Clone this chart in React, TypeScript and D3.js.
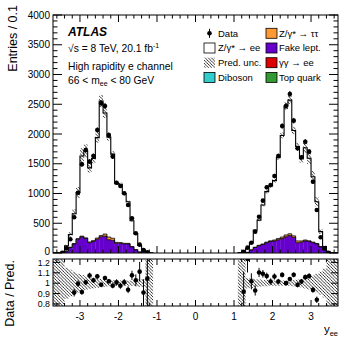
import React from 'react';
import * as d3 from 'd3';

const binCenters = [
  -3.65, -3.55, -3.45, -3.35, -3.25, -3.15, -3.05, -2.95, -2.85, -2.75, -2.65, -2.55, -2.45,
  -2.35, -2.25, -2.15, -2.05, -1.95, -1.85, -1.75, -1.65, -1.55, -1.45, -1.35, -1.25, -1.15,
  1.15, 1.25, 1.35, 1.45, 1.55, 1.65, 1.75, 1.85, 1.95, 2.05, 2.15, 2.25, 2.35,
  2.45, 2.55, 2.65, 2.75, 2.85, 2.95, 3.05, 3.15, 3.25, 3.35, 3.45, 3.55, 3.65,
];

const dataCounts = [
  0, 0, 5, 80, 230, 600, 1013, 1490, 1730, 1535, 1630, 2067, 2516,
  2470, 1983, 1620, 1180, 1126, 1003, 807, 583, 331, 140, 50, 12, 0,
  0, 22, 90, 173, 358, 610, 880, 1104, 1143, 1294, 1630, 2134, 2470,
  2672, 2224, 1760, 1608, 1871, 1703, 1198, 723, 264, 79, 5, 0, 0,
];

const zeeMC = [
  0, 2, 15, 90, 214, 502, 777, 1347, 1461, 1245, 1379, 1688, 2261,
  2034, 1680, 1414, 993, 980, 832, 700, 433, 265, 109, 52, 11.5, 1,
  2, 24, 63, 118, 288, 424, 656, 849, 920, 998, 1361, 1708, 2167,
  2246, 1771, 1586, 1380, 1550, 1387, 1098, 700, 252, 58, 10, 2, 0,
];

const zttMC = [
  0, 0, 0, 0, 3, 5, 8, 10, 12, 12, 15, 18, 20,
  35, 45, 35, 15, 12, 10, 8, 6, 4, 2, 0, 0, 0,
  0, 0, 0, 2, 4, 6, 8, 10, 12, 15, 20, 25, 30,
  30, 25, 30, 20, 15, 12, 10, 8, 5, 2, 0, 0, 0,
];

const fakeMC = [
  0, 0, 5, 30, 90, 150, 230, 270, 240, 170, 190, 230, 270,
  280, 220, 210, 160, 160, 150, 150, 100, 50, 15, 3, 0, 0,
  0, 0, 10, 50, 90, 120, 140, 170, 190, 200, 220, 240, 270,
  290, 260, 170, 180, 200, 190, 170, 150, 100, 50, 10, 0, 0,
];

const dibosonMC = [
  0, 0, 0, 0, 1, 1, 1, 1, 1, 1, 1, 1, 1,
  1, 1, 1, 1, 1, 1, 1, 1, 1, 0, 0, 0, 0,
  0, 0, 0, 0, 1, 1, 1, 1, 1, 1, 1, 1, 1,
  1, 1, 1, 1, 1, 1, 1, 1, 1, 0, 0, 0, 0,
];

const gammaMC = [
  0, 0, 0, 0, 1, 1, 1, 1, 1, 1, 1, 1, 1,
  1, 1, 1, 1, 1, 1, 1, 1, 1, 0, 0, 0, 0,
  0, 0, 0, 0, 1, 1, 1, 1, 1, 1, 1, 1, 1,
  1, 1, 1, 1, 1, 1, 1, 1, 1, 0, 0, 0, 0,
];

const topMC = [
  0, 0, 0, 0, 1, 1, 1, 1, 1, 1, 1, 1, 1,
  1, 1, 1, 1, 1, 1, 1, 1, 1, 0, 0, 0, 0,
  0, 0, 0, 0, 1, 1, 1, 1, 1, 1, 1, 1, 1,
  1, 1, 1, 1, 1, 1, 1, 1, 1, 0, 0, 0, 0,
];

const predUnc = [
  1, 1, 1, 0.15, 0.13, 0.11, 0.09, 0.08, 0.065, 0.055, 0.05, 0.045, 0.04,
  0.035, 0.03, 0.03, 0.025, 0.025, 0.025, 0.025, 0.025, 0.03, 0.035, 0.04, 1, 1,
  1, 1, 0.05, 0.045, 0.04, 0.035, 0.03, 0.03, 0.025, 0.025, 0.025, 0.025, 0.025,
  0.025, 0.03, 0.035, 0.04, 0.05, 0.06, 0.075, 0.09, 0.11, 0.14, 1, 1, 1,
];

const xTickValues = [-3, -2, -1, 0, 1, 2, 3];
const yTickValues = [0, 500, 1000, 1500, 2000, 2500, 3000, 3500, 4000];
const ratioTickValues = [0.8, 0.9, 1, 1.1, 1.2];

const legendLeft = [
  { label: 'Data', kind: 'data' },
  { label: 'Z/γ* → ee', kind: 'box', color: '#ffffff' },
  { label: 'Pred. unc.', kind: 'hatch' },
  { label: 'Diboson', kind: 'box', color: '#33cccc' },
];
const legendRight = [
  { label: 'Z/γ* → ττ', color: '#ff9933' },
  { label: 'Fake lept.', color: '#6600cc' },
  { label: 'γγ → ee', color: '#dd0000' },
  { label: 'Top quark', color: '#339933' },
];

const HALF = 0.05;
const L = 53, R = 338, T = 15, B = 253, RT = 259, RB = 306;
const FONT = 'Liberation Sans, Arial, Helvetica, sans-serif';

export default function App() {
  const x = d3.scaleLinear().domain([-3.7, 3.7]).range([L, R]);
  const y = d3.scaleLinear().domain([0, 4000]).range([B, T]);
  const yr = d3.scaleLinear().domain([0.78, 1.233]).range([RB, RT]);

  const keys = ['top', 'gg', 'dib', 'fake', 'ztt', 'zee'];
  const colors: Record<string, string> = {
    top: '#339933', gg: '#dd0000', dib: '#33cccc', fake: '#6600cc', ztt: '#ff9933', zee: '#ffffff',
  };
  const rows = binCenters.map((c, i) => ({
    c, top: topMC[i], gg: gammaMC[i], dib: dibosonMC[i], fake: fakeMC[i], ztt: zttMC[i], zee: zeeMC[i],
  }));
  const stacked = d3.stack<any>().keys(keys)(rows);
  const total = rows.map((r) => r.top + r.gg + r.dib + r.fake + r.ztt + r.zee);

  const sides = [d3.range(0, 26), d3.range(26, 52)];
  const stepPath = (idx: number[], val: (i: number) => number) => {
    const p: [number, number][] = [];
    p.push([x(binCenters[idx[0]] - HALF), y(0)]);
    for (const i of idx) {
      p.push([x(binCenters[i] - HALF), y(val(i))]);
      p.push([x(binCenters[i] + HALF), y(val(i))]);
    }
    p.push([x(binCenters[idx[idx.length - 1]] + HALF), y(0)]);
    return d3.line()(p) || '';
  };

  const minorX = d3.range(-36, 37, 2).map((v) => v / 10).filter((v) => Math.abs(v - Math.round(v)) > 1e-6);
  const minorY = d3.range(0, 4001, 100).filter((v) => v % 500 !== 0);

  return (
    <svg width={357} height={344} style={{ position: 'absolute', left: 0, top: 0, background: '#fff' }} fontFamily={FONT}>
      <defs>
        <pattern id="hatch" patternUnits="userSpaceOnUse" width={3.2} height={3.2}>
          <path d="M-1,-1 L4.2,4.2 M-1,2.2 L1,4.2 M2.2,-1 L4.2,1" stroke="#000" strokeWidth={0.8} />
        </pattern>
        <clipPath id="mainClip"><rect x={L} y={T} width={R - L} height={B - T} /></clipPath>
        <clipPath id="ratioClip"><rect x={L} y={RT} width={R - L} height={RB - RT} /></clipPath>
      </defs>
      <rect x={0} y={0} width={357} height={344} fill="#fff" />

      {/* main panel */}
      <g clipPath="url(#mainClip)">
        {stacked.map((layer) => (
          <g key={layer.key}>
            {layer.map((d, i) => (
              d[1] > d[0] ? (
                <rect key={i} x={x(binCenters[i] - HALF)} width={x(binCenters[i] + HALF) - x(binCenters[i] - HALF) + 0.3}
                  y={y(d[1])} height={y(d[0]) - y(d[1])} fill={colors[layer.key]} />
              ) : null
            ))}
          </g>
        ))}
        {stacked.filter((l) => l.key === 'fake' || l.key === 'ztt').map((layer) =>
          sides.map((idx, s) => (
            <path key={layer.key + s} d={stepPath(idx, (i) => layer[i][1])} fill="none" stroke="#000" strokeWidth={0.8} />
          ))
        )}
        {sides.map((idx, s) => (
          <path key={'tot' + s} d={stepPath(idx, (i) => total[i])} fill="none" stroke="#000" strokeWidth={1.1} />
        ))}
        {binCenters.map((c, i) => {
          const u = Math.min(predUnc[i], 1);
          const hi = total[i] * (1 + u), lo = total[i] * (1 - u);
          if (total[i] <= 0) return null;
          return (
            <rect key={'h' + i} x={x(c - HALF)} width={x(c + HALF) - x(c - HALF)} y={y(hi)} height={y(lo) - y(hi)} fill="url(#hatch)" />
          );
        })}
        {binCenters.map((c, i) => {
          const n = dataCounts[i];
          if (n <= 0) return null;
          const e = Math.sqrt(n);
          return (
            <g key={'d' + i}>
              <line x1={x(c)} x2={x(c)} y1={y(n + e)} y2={y(Math.max(n - e, 0))} stroke="#000" strokeWidth={1} />
              <circle cx={x(c)} cy={y(n)} r={2.3} fill="#000" />
            </g>
          );
        })}
      </g>
      <rect x={L} y={T} width={R - L} height={B - T} fill="none" stroke="#000" strokeWidth={1} />
      {yTickValues.map((v) => (
        <g key={'yt' + v}>
          <line x1={L} x2={L + 9} y1={y(v)} y2={y(v)} stroke="#000" />
          <line x1={R} x2={R - 9} y1={y(v)} y2={y(v)} stroke="#000" />
          <text x={L - 3} y={v === 0 ? y(v) - 1.5 : y(v)} dy="0.35em" textAnchor="end" fontSize={10}>{v}</text>
        </g>
      ))}
      {minorY.map((v) => (
        <g key={'ym' + v}>
          <line x1={L} x2={L + 4.5} y1={y(v)} y2={y(v)} stroke="#000" />
          <line x1={R} x2={R - 4.5} y1={y(v)} y2={y(v)} stroke="#000" />
        </g>
      ))}
      {xTickValues.map((v) => (
        <g key={'xt' + v}>
          <line x1={x(v)} x2={x(v)} y1={B} y2={B - 7} stroke="#000" />
          <line x1={x(v)} x2={x(v)} y1={T} y2={T + 7} stroke="#000" />
        </g>
      ))}
      {minorX.map((v) => (
        <g key={'xm' + v}>
          <line x1={x(v)} x2={x(v)} y1={B} y2={B - 3.5} stroke="#000" />
          <line x1={x(v)} x2={x(v)} y1={T} y2={T + 3.5} stroke="#000" />
        </g>
      ))}

      {/* ratio panel */}
      <g clipPath="url(#ratioClip)">
        {binCenters.map((c, i) => {
          const u = predUnc[i];
          return (
            <rect key={'rh' + i} x={x(c - HALF)} width={x(c + HALF) - x(c - HALF)} y={yr(1 + u)} height={yr(1 - u) - yr(1 + u)} fill="url(#hatch)" />
          );
        })}
        {binCenters.map((c, i) => {
          const n = dataCounts[i];
          if (n <= 0 || total[i] <= 0) return null;
          const r = n / total[i];
          const e = Math.sqrt(n) / total[i];
          if (r < 0.78 || r > 1.24) return null;
          return (
            <g key={'rd' + i}>
              <line x1={x(c)} x2={x(c)} y1={yr(r + e)} y2={yr(r - e)} stroke="#000" strokeWidth={1} />
              <circle cx={x(c)} cy={yr(r)} r={2.3} fill="#000" />
            </g>
          );
        })}
      </g>
      <rect x={L} y={RT} width={R - L} height={RB - RT} fill="none" stroke="#000" strokeWidth={1} />
      {ratioTickValues.map((v) => (
        <g key={'rt' + v}>
          <line x1={L} x2={L + 7} y1={yr(v)} y2={yr(v)} stroke="#000" />
          <line x1={R} x2={R - 7} y1={yr(v)} y2={yr(v)} stroke="#000" />
          <text x={L - 3} y={yr(v)} dy="0.35em" textAnchor="end" fontSize={8.8}>{v}</text>
        </g>
      ))}
      {xTickValues.map((v) => (
        <g key={'rxt' + v}>
          <line x1={x(v)} x2={x(v)} y1={RB} y2={RB - 6} stroke="#000" />
          <line x1={x(v)} x2={x(v)} y1={RT} y2={RT + 6} stroke="#000" />
          <text x={x(v)} y={320} textAnchor="middle" fontSize={10}>{v}</text>
        </g>
      ))}
      {minorX.map((v) => (
        <g key={'rxm' + v}>
          <line x1={x(v)} x2={x(v)} y1={RB} y2={RB - 3} stroke="#000" />
          <line x1={x(v)} x2={x(v)} y1={RT} y2={RT + 3} stroke="#000" />
        </g>
      ))}

      {/* axis titles */}
      <text transform="translate(17,5) rotate(-90)" textAnchor="end" fontSize={12.5}>Entries / 0.1</text>
      <text transform="translate(14,260) rotate(-90)" textAnchor="end" fontSize={12.5}>Data / Pred.</text>
      <text x={R} y={333} textAnchor="end" fontSize={11.5}>y<tspan fontSize={7.5} dy={2.5}>ee</tspan></text>

      {/* labels */}
      <text x={68} y={36} fontSize={12} fontWeight="bold" fontStyle="italic">ATLAS</text>
      <text x={68} y={52} fontSize={10.3}>√s = 8 TeV, 20.1 fb<tspan fontSize={7} dy={-4}>-1</tspan></text>
      <text x={68} y={70} fontSize={10.3}>High rapidity e channel</text>
      <text x={68} y={84} fontSize={10.3}>66 &lt; m<tspan fontSize={7} dy={2}>ee</tspan><tspan dy={-2}> &lt; 80 GeV</tspan></text>

      {/* legend */}
      {legendLeft.map((d, i) => {
        const cy = 33.3 + i * 14.7;
        return (
          <g key={'ll' + i}>
            {d.kind === 'data' ? (
              <g>
                <line x1={209.5} x2={209.5} y1={cy - 4.5} y2={cy + 4.5} stroke="#000" />
                <circle cx={209.5} cy={cy} r={2.3} fill="#000" />
              </g>
            ) : d.kind === 'hatch' ? (
              <rect x={204} y={cy - 5} width={11} height={10} fill="url(#hatch)" />
            ) : (
              <rect x={204} y={cy - 5} width={11} height={10} fill={d.color} stroke="#000" strokeWidth={0.8} />
            )}
            <text x={218} y={cy} dy="0.35em" fontSize={9.5}>{d.label}</text>
          </g>
        );
      })}
      {legendRight.map((d, i) => {
        const cy = 33.3 + i * 14.7;
        return (
          <g key={'lr' + i}>
            <rect x={266} y={cy - 5} width={11} height={10} fill={d.color} stroke="#000" strokeWidth={0.8} />
            <text x={279} y={cy} dy="0.35em" fontSize={9.5}>{d.label}</text>
          </g>
        );
      })}
    </svg>
  );
}
